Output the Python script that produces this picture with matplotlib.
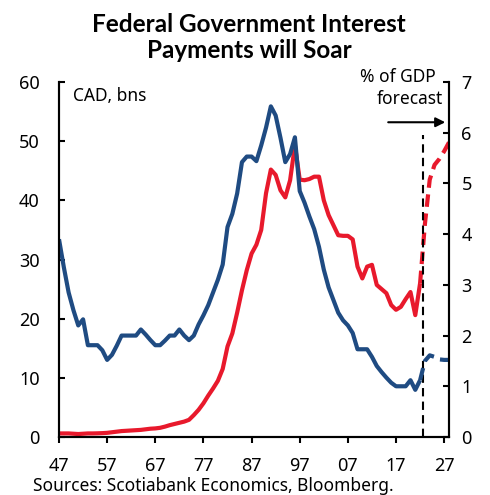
import matplotlib
matplotlib.use("Agg")
import matplotlib.pyplot as plt

plt.rcParams["font.family"] = ["Noto Sans", "DejaVu Sans"]

RED = "#e8192c"
BLUE = "#1f4b82"

# actual data, 1947-2022
years = list(range(1947, 2023))
interest_cad = [
    0.6, 0.6, 0.6, 0.55, 0.5, 0.55, 0.6, 0.6, 0.62, 0.65,  # 47-56
    0.7, 0.8, 0.9, 1.0, 1.05, 1.1, 1.15, 1.2, 1.3, 1.4,    # 57-66
    1.45, 1.55, 1.75, 2.0, 2.2, 2.4, 2.6, 2.9, 3.7, 4.6,   # 67-76
    5.7, 7.0, 8.2, 9.5, 11.5, 15.3, 17.5, 21.0, 24.8, 28.2,  # 77-86
    31.0, 32.5, 35.0, 41.2, 45.2, 44.3, 41.7, 40.5, 43.4, 49.3,  # 87-96
    43.5, 43.4, 43.6, 44.0, 44.0, 40.0, 37.5, 35.8, 34.1, 34.0,  # 97-06
    34.0, 33.4, 28.8, 26.8, 28.8, 29.1, 25.7, 25.0, 24.3, 22.3,  # 07-16
    21.5, 22.0, 23.3, 24.5, 20.6, 26.0,                          # 17-22
]
interest_gdp = [
    3.9, 3.35, 2.85, 2.5, 2.2, 2.32, 1.81, 1.81, 1.81, 1.71,
    1.52, 1.62, 1.8, 2.0, 2.0, 2.0, 2.0, 2.12, 2.02, 1.91,
    1.81, 1.81, 1.9, 2.0, 2.0, 2.12, 2.0, 1.91, 2.0, 2.22,
    2.4, 2.6, 2.85, 3.1, 3.4, 4.14, 4.4, 4.8, 5.42, 5.53,
    5.53, 5.44, 5.75, 6.1, 6.52, 6.34, 5.9, 5.42, 5.58, 5.91,
    4.85, 4.62, 4.35, 4.1, 3.75, 3.3, 2.95, 2.7, 2.45, 2.3,
    2.2, 2.05, 1.73, 1.73, 1.73, 1.58, 1.4, 1.28, 1.17, 1.07,
    1.0, 1.0, 1.0, 1.12, 0.93, 1.12,
]

# forecast, 2022-2028 (starts from last actual point)
fc_years = list(range(2022, 2029))
fc_cad = [26.0, 36.0, 43.5, 46.0, 47.0, 48.3, 49.8]
fc_gdp = [1.12, 1.5, 1.61, 1.58, 1.53, 1.52, 1.52]
forecast_start = 2022.5

xticks = list(range(1947, 2028, 10))
xticklabels = [f"{y % 100:02d}" for y in xticks]

fig = plt.figure(figsize=(4.9, 4.95), dpi=100)
ax = fig.add_axes([0.1204, 0.1172, 0.7959, 0.7171])
ax2 = ax.twinx()

ax.plot(years, interest_cad, color=RED, lw=3, solid_capstyle="butt")
ax.plot(fc_years, fc_cad, color=RED, lw=3, ls=(0, (3, 1.6)))
ax2.plot(years, interest_gdp, color=BLUE, lw=3, solid_capstyle="butt")
ax2.plot(fc_years, fc_gdp, color=BLUE, lw=3, ls=(0, (3, 1.6)))
ax.vlines(forecast_start, 0, 51, color="black", lw=1.5, ls=(0, (4, 2.5)))

ax.set_xlim(1947, 2028)
ax.set_ylim(0, 60)
ax2.set_ylim(0, 7)
ax.set_xticks(xticks)
ax.set_xticklabels(xticklabels)
ax.set_yticks(range(0, 61, 10))
ax2.set_yticks(range(0, 8))

for a in (ax, ax2):
    a.spines["top"].set_visible(False)
    for s in ("left", "right", "bottom"):
        a.spines[s].set_linewidth(1.5)
ax.tick_params(axis="y", direction="in", length=4, width=1.5, pad=14, labelsize=13)
ax2.tick_params(axis="y", direction="in", length=4, width=1.5, pad=9, labelsize=13)
ax.tick_params(axis="x", direction="out", length=4.5, width=1.5, pad=10, labelsize=13)

ax.text(0.035, 0.985, "CAD, bns", transform=ax.transAxes, fontsize=12.5,
        ha="left", va="top")
fig.text(0.89, 0.845, "% of GDP", fontsize=12.5, ha="right", va="center")
fig.text(0.905, 0.80, "forecast", fontsize=12.5, ha="right", va="center")
ax.annotate("", xy=(2027.8, 53.2), xytext=(2014.8, 53.2),
            arrowprops=dict(arrowstyle="-|>", color="black", lw=1.5,
                            mutation_scale=14))

fig.suptitle("Federal Government Interest\nPayments will Soar", x=0.508, y=0.973,
             fontsize=17.5, fontweight="bold", family=["Lato", "DejaVu Sans"],
             linespacing=1.15)
fig.text(0.067, 0.008, "Sources: Scotiabank Economics, Bloomberg.", fontsize=12.5,
         ha="left", va="baseline")

fig.savefig("out.png", dpi=100)
